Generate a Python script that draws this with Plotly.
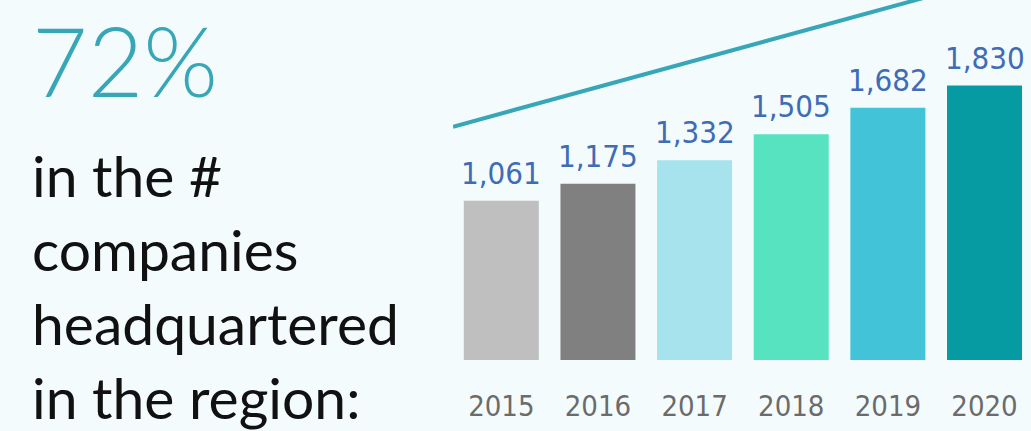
import plotly.graph_objects as go

# Companies headquartered in the region, by year
years = ["2015", "2016", "2017", "2018", "2019", "2020"]
companies = [1061, 1175, 1332, 1505, 1682, 1830]
bar_colors = ["#bfbfbf", "#808080", "#a6e3ec", "#57e2c0", "#42c3d8", "#069ba3"]

headline = "72%"
caption_lines = ["in the #", "companies", "headquartered", "in the region:"]

# Decorative growth line, drawn across the full category range
growth_x = [-0.5, 5.481]
growth_y = [1555, 2610]

BG = "#f3fbfd"
TEAL = "#37a7b8"
LABEL_BLUE = "#3f6cb5"
YEAR_GREY = "#6b6b6b"
NUM_FONT = "Liberation Sans Narrow, DejaVu Sans Condensed, sans-serif"

W, H = 1031, 431
ML, MB = 453, 71
plot_w = W - ML
plot_h = H - MB


def paper_x(px):
    return (px - ML) / plot_w


def paper_y(py):
    return (plot_h - py) / plot_h


fig = go.Figure()

fig.add_trace(go.Bar(
    x=years,
    y=companies,
    marker=dict(color=bar_colors, line=dict(width=0)),
    hoverinfo="skip",
    showlegend=False,
))

fig.add_trace(go.Scatter(
    x=growth_x,
    y=growth_y,
    mode="lines",
    line=dict(color=TEAL, width=4),
    xaxis="x2",
    hoverinfo="skip",
    showlegend=False,
))

annotations = []
for i, val in enumerate(companies):
    annotations.append(dict(
        x=i, y=val, xref="x", yref="y",
        text=f"{val:,}",
        showarrow=False,
        xanchor="center", yanchor="bottom",
        yshift=8,
        font=dict(family=NUM_FONT, size=31, color=LABEL_BLUE),
    ))

annotations.append(dict(
    x=paper_x(30), y=paper_y(0), xref="paper", yref="paper",
    text=headline, showarrow=False,
    xanchor="left", yanchor="top",
    font=dict(family="Lato, sans-serif", size=96, color=TEAL, weight=300),
))

annotations.append(dict(
    x=paper_x(31), y=paper_y(140), xref="paper", yref="paper",
    text="<br>".join(caption_lines), showarrow=False,
    xanchor="left", yanchor="top", align="left", borderpad=0,
    font=dict(family="Lato, sans-serif", size=57, color="#111111"),
))

fig.update_layout(
    width=W, height=H,
    margin=dict(l=ML, r=0, t=0, b=MB, pad=0),
    paper_bgcolor=BG, plot_bgcolor=BG,
    bargap=0.224,
    xaxis=dict(
        type="category", range=[-0.5, 5.481],
        showgrid=False, zeroline=False, showline=False, ticks="",
        tickfont=dict(family=NUM_FONT, size=29, color=YEAR_GREY),
        ticklabelstandoff=26,
    ),
    xaxis2=dict(
        overlaying="x", range=[-0.5, 5.481], visible=False,
    ),
    yaxis=dict(
        range=[0, 2400], visible=False, showgrid=False, zeroline=False,
    ),
    annotations=annotations,
)

fig.write_html("out.html")
